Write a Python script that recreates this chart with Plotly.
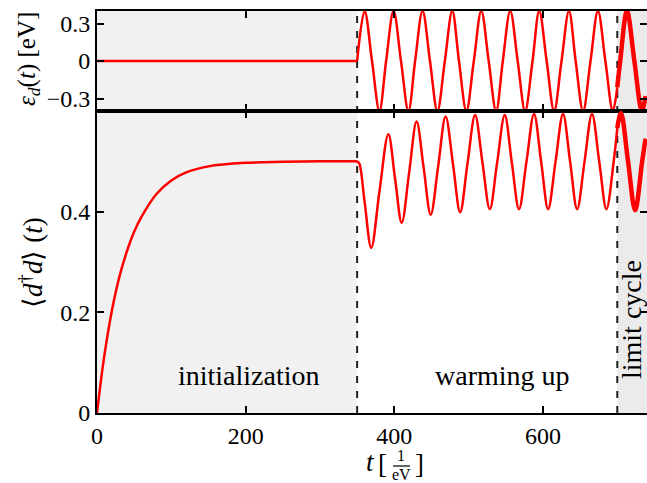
import plotly.graph_objects as go

# ---------------- data ----------------
# top panel: level energy eps_d(t) [eV]
t_eps_flat = [0, 350]
eps_flat = [0.0, 0.0]
t_eps_warm = [350, 360, 370, 380, 389, 399, 409, 419, 428, 438, 448, 458, 468, 478,
              487, 497, 507, 517, 527, 537, 546, 556, 566, 576, 586, 595, 605, 615,
              625, 635, 644, 654, 664, 674, 684, 694, 700]
eps_warm = [0.0, 0.4, 0.0, -0.4, 0.0, 0.4, 0.0, -0.4, 0.0, 0.4, 0.0, -0.4, 0.0, 0.4,
            0.0, -0.4, 0.0, 0.4, 0.0, -0.4, 0.0, 0.4, 0.0, -0.4, 0.0, 0.4, 0.0, -0.4,
            0.0, 0.4, 0.0, -0.4, 0.0, 0.4, 0.0, -0.4, -0.21]
t_eps_lc = [700, 704, 713, 723, 733, 738]
eps_lc = [-0.21, 0.0, 0.4, 0.0, -0.4, -0.28]

# bottom panel: occupation <d^dagger d>(t)
t_occ_init = [0, 5, 10, 20, 30, 40, 50, 60, 80, 100, 120, 150, 200, 250, 300, 350]
occ_init = [0.0, 0.061, 0.115, 0.203, 0.27, 0.32, 0.36, 0.39, 0.435, 0.462, 0.478,
            0.49, 0.497, 0.499, 0.5, 0.5]
t_occ_warm = [350, 353, 360, 369, 380, 392, 401, 410, 420, 430, 439.5, 449, 459, 469,
              479, 488.6, 498.6, 508.7, 518.5, 528.5, 538.5, 548.6, 558, 567.8, 577.9,
              588, 597.5, 607, 617, 627, 636.5, 646, 656, 666, 675.7, 685.4, 695.2, 700]
occ_warm = [0.5, 0.495, 0.42, 0.328, 0.44, 0.554, 0.466, 0.378, 0.478, 0.579, 0.487,
            0.394, 0.49, 0.589, 0.494, 0.399, 0.497, 0.592, 0.499, 0.405, 0.499, 0.592,
            0.499, 0.405, 0.5, 0.594, 0.5, 0.405, 0.5, 0.594, 0.5, 0.405, 0.5, 0.594,
            0.5, 0.405, 0.5, 0.566]
t_occ_lc = [700, 705, 714.5, 724, 733.5, 738]
occ_lc = [0.566, 0.596, 0.5, 0.403, 0.5, 0.545]

x_ticks = [0, 200, 400, 600]
x_ticktext = ["0", "200", "400", "600"]
eps_ticks = [-0.3, 0, 0.3]
eps_ticktext = ["\u22120.3", "0", "0.3"]
occ_ticks = [0, 0.2, 0.4]
occ_ticktext = ["0", "0.2", "0.4"]

phase_bounds = [0, 350, 700, 740]
phase_labels = ["initialization", "warming up", "limit cycle"]

# ---------------- figure ----------------
W, H = 647, 483
ML, MR, MT, MB = 97, 0, 11, 70
PW, PH = W - ML - MR, H - MT - MB

def px(xp):
    return (xp - ML) / PW

def py(yp):
    return (H - MB - yp) / PH

FONT = "Liberation Serif"
RED = "#ff0000"
split = 302 / PH

fig = go.Figure()

line_n = dict(color=RED, width=2.5)
line_lc = dict(color=RED, width=4.5)

def add(x, y, line, ax):
    fig.add_trace(go.Scatter(x=x, y=y, mode="lines", line=line, showlegend=False,
                             hoverinfo="skip", xaxis="x" if ax == 1 else "x2",
                             yaxis="y" if ax == 1 else "y2"))

add(t_eps_flat, eps_flat, line_n, 1)
add(t_eps_warm, eps_warm, dict(line_n, shape="spline", smoothing=1), 1)
add(t_eps_lc, eps_lc, dict(line_lc, shape="spline", smoothing=1), 1)
add(t_occ_init, occ_init, dict(line_n, shape="spline", smoothing=1), 2)
add(t_occ_warm, occ_warm, dict(line_n, shape="spline", smoothing=1), 2)
add(t_occ_lc, occ_lc, dict(line_lc, shape="spline", smoothing=1), 2)

# shaded phases
fig.add_shape(type="rect", xref="x", yref="paper", x0=phase_bounds[0], x1=phase_bounds[1],
              y0=0, y1=1, fillcolor="#f1f1f1", line=dict(width=0), layer="below")
fig.add_shape(type="rect", xref="x", yref="paper", x0=phase_bounds[2], x1=phase_bounds[3],
              y0=0, y1=1, fillcolor="#ebebeb", line=dict(width=0), layer="below")
for xb in phase_bounds[1:3]:
    fig.add_shape(type="line", xref="x", yref="paper", x0=xb, x1=xb, y0=0, y1=1,
                  line=dict(color="#222222", width=2, dash="7px,8px"), layer="below")

tickfont = dict(family=FONT, size=24, color="black")
axis_common = dict(showline=True, linecolor="black", linewidth=2, mirror="allticks",
                   ticks="inside", ticklen=7, tickwidth=1.8, tickcolor="black",
                   showgrid=False, zeroline=False, automargin=False, tickfont=tickfont)

txt = dict(family=FONT, color="black")
C = dict(xanchor="center", yanchor="middle", showarrow=False)
ann = []
ann.append(dict(C, x=204, y=0.075, xref="x2", yref="y2", text=phase_labels[0],
                font=dict(txt, size=28)))
ann.append(dict(C, x=546, y=0.075, xref="x2", yref="y2", text=phase_labels[1],
                font=dict(txt, size=28)))
ann.append(dict(C, x=720, y=0.185, xref="x2", yref="y2", text=phase_labels[2],
                textangle=-90, font=dict(txt, size=28)))
ann.append(dict(C, x=px(28), y=py(59), xref="paper", yref="paper",
                text="<i>\u03b5<sub>d</sub></i>(<i>t</i>) [eV]", textangle=-90,
                font=dict(txt, size=25)))
ann.append(dict(C, x=px(31), y=py(263), xref="paper", yref="paper",
                text="\u27e8<i>d</i><sup>\u2020</sup><i>d</i>\u27e9 (<i>t</i>)", textangle=-90,
                font=dict(txt, size=27)))
# x-axis title  t [1/eV]  with a stacked fraction
ann.append(dict(C, x=px(370), y=py(462), xref="paper", yref="paper", text="<i>t</i>",
                font=dict(txt, size=27)))
ann.append(dict(C, x=px(382), y=py(464), xref="paper", yref="paper", text="[",
                font=dict(txt, size=27)))
ann.append(dict(C, x=px(401), y=py(456), xref="paper", yref="paper", text="1",
                font=dict(txt, size=16)))
ann.append(dict(C, x=px(401), y=py(474), xref="paper", yref="paper", text="eV",
                font=dict(txt, size=16)))
ann.append(dict(C, x=px(419), y=py(464), xref="paper", yref="paper", text="]",
                font=dict(txt, size=27)))
fig.add_shape(type="line", xref="paper", yref="paper", x0=px(393), x1=px(410),
              y0=py(466), y1=py(466), line=dict(color="black", width=1.2))

fig.update_layout(
    template="none", width=W, height=H,
    margin=dict(l=ML, r=MR, t=MT, b=MB, autoexpand=False),
    plot_bgcolor="white", paper_bgcolor="white", annotations=ann, hovermode=False,
    xaxis=dict(axis_common, domain=[0, 1], anchor="y", range=[0, 740],
               tickvals=x_ticks, ticktext=x_ticktext, showticklabels=False),
    yaxis=dict(axis_common, domain=[split, 1], anchor="x", range=[-0.4, 0.4],
               tickvals=eps_ticks, ticktext=eps_ticktext),
    xaxis2=dict(axis_common, domain=[0, 1], anchor="y2", range=[0, 740],
                tickvals=x_ticks, ticktext=x_ticktext),
    yaxis2=dict(axis_common, domain=[0, split], anchor="x2", range=[0, 0.6],
                tickvals=occ_ticks, ticktext=occ_ticktext),
)

fig.write_html("out.html", config={"displayModeBar": False},
               post_script="document.body.style.margin='0px';")
